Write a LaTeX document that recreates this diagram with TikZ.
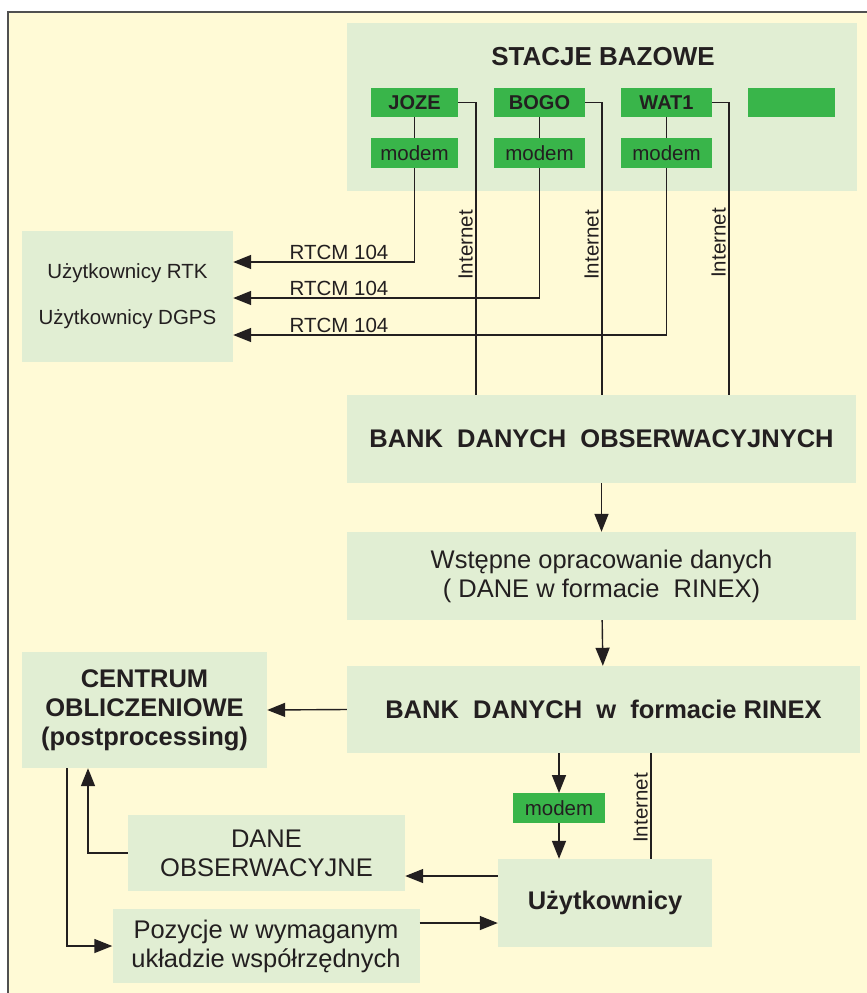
\documentclass[tikz,border=0pt]{standalone}
\usepackage{fontspec}
\setmainfont{Liberation Sans}
\usepackage{tikz}
\usepackage{xcolor}
\usetikzlibrary{positioning,arrows.meta,calc}
\definecolor{myyellow}{RGB}{255,250,214}
\definecolor{mylight}{RGB}{225,238,211}
\definecolor{mygreen}{RGB}{57,181,74}
\definecolor{myline}{RGB}{35,31,32}
\definecolor{myframe}{RGB}{80,80,80}
\tikzset{
    box/.style={
        rectangle,
        fill=mylight,
        inner sep=0pt,
        align=center,
        text=myline,
        font=\fontsize{25.5}{29}\selectfont
    },
    bbox/.style={
        box,
        font=\fontsize{25.5}{29}\selectfont\bfseries
    },
    st/.style={
        rectangle,
        fill=mygreen,
        minimum height=29.5pt,
        inner sep=0pt,
        text=myline,
        font=\fontsize{20.5}{23}\selectfont
    },
    lbl/.style={
        inner sep=1pt,
        text=myline,
        font=\fontsize{20.5}{23}\selectfont
    },
    ln/.style={line width=1.4pt,myline},
    arr/.style={-{Triangle[length=18pt,width=14pt]},line width=1.4pt,myline}
}
\begin{document}
\begin{tikzpicture}[x=1pt,y=-1pt]
\useasboundingbox (0,0) rectangle (867,993);
% tlo i ramka
\fill[myyellow] (8,12) rectangle (867,993);
\draw[myframe,line width=1.5pt] (8,993) -- (8,12) -- (867,12);
% stacje bazowe
\node[box,minimum width=510pt,minimum height=168pt] (sta) at (602,107) {};
\node[anchor=base,text=myline,font=\fontsize{26}{30}\selectfont\bfseries] (title) at (603,65) {STACJE BAZOWE};
\node[st,minimum width=87pt,font=\fontsize{20}{23}\selectfont\bfseries] (joze) at (414.5,102.5) {JOZE};
\node[st,minimum width=91pt,font=\fontsize{20}{23}\selectfont\bfseries] (bogo) at (539.5,102.5) {BOGO};
\node[st,minimum width=91pt,font=\fontsize{20}{23}\selectfont\bfseries] (wat) at (666.5,102.5) {WAT1};
\node[st,minimum width=87pt] (blank) at (791.5,102.5) {};
\node[st,minimum width=87pt] (jozem) at (414.5,153) {modem};
\node[st,minimum width=91pt] (bogom) at (539.5,153) {modem};
\node[st,minimum width=91pt] (watm) at (666.5,153) {modem};
% uzytkownicy RTK / DGPS
\node[box,minimum width=211pt,minimum height=131pt,font=\fontsize{20.5}{23}\selectfont] (users) at (127.5,296.5) {U\.zytkownicy RTK\\[23pt]U\.zytkownicy DGPS};
% banki danych
\node[bbox,minimum width=509pt,minimum height=88pt] (bdo) at (601.5,439) {BANK~~DANYCH~~OBSERWACYJNYCH};
\node[box,minimum width=509pt,minimum height=88pt] (wst) at (601.5,576) {Wstępne opracowanie danych\\( DANE w formacie~~RINEX)};
\node[bbox,minimum width=513pt,minimum height=87pt] (rinex) at (603.5,709.5) {BANK~~DANYCH~~w~~formacie RINEX};
\node[bbox,minimum width=245pt,minimum height=116pt] (cen) at (144.5,710) {CENTRUM\\OBLICZENIOWE\\(postprocessing)};
\node[box,minimum width=277pt,minimum height=76pt] (dane) at (266.5,853) {DANE\\OBSERWACYJNE};
\node[box,minimum width=307pt,minimum height=74pt] (poz) at (266,946) {Pozycje w wymaganym\\układzie współrzędnych};
\node[bbox,minimum width=214pt,minimum height=88pt] (usr) at (605,903) {Użytkownicy};
\node[st,minimum width=92pt] (mb) at (559,808) {modem};
% punkty pomocnicze
\coordinate (r1) at (0,262);
\coordinate (r2) at (0,298);
\coordinate (r3) at (0,335);
\coordinate (i1) at (476,0);
\coordinate (i2) at (602,0);
\coordinate (i3) at (729,0);
\coordinate (i4) at (651,0);
\coordinate (a1) at (0,876);
\coordinate (a2) at (0,923);
\coordinate (c1) at (88,0);
\coordinate (c2) at (67,0);
% polaczenia stacji
\draw[ln] (joze) -- (jozem);
\draw[ln] (bogo) -- (bogom);
\draw[ln] (wat) -- (watm);
\draw[arr] (jozem.south) |- (users.east |- r1);
\draw[arr] (bogom.south) |- (users.east |- r2);
\draw[arr] (watm.south) |- (users.east |- r3);
\node[lbl,anchor=south] (t1) at (339,261) {RTCM 104};
\node[lbl,anchor=south] (t2) at (339,297) {RTCM 104};
\node[lbl,anchor=south] (t3) at (339,334) {RTCM 104};
\draw[ln] (joze.east) -| (i1 |- bdo.north);
\draw[ln] (bogo.east) -| (i2 |- bdo.north);
\draw[ln] (wat.east) -| (i3 |- bdo.north);
\node[lbl,rotate=90,anchor=south] (n1) at (474,245) {Internet};
\node[lbl,rotate=90,anchor=south] (n2) at (600,245) {Internet};
\node[lbl,rotate=90,anchor=south] (n3) at (727,243) {Internet};
% przeplyw danych
\draw[arr] (bdo) -- (wst);
\draw[arr] (wst) -- (rinex);
\draw[arr] (rinex.west) -- (cen.east);
\draw[arr] (mb.north |- rinex.south) -- (mb);
\draw[arr] (mb) -- (mb.south |- usr.north);
\draw[ln] (i4 |- rinex.south) -- (i4 |- usr.north);
\node[lbl,rotate=90,anchor=south] (n4) at (649,808) {Internet};
\draw[arr] (usr.west |- a1) -- (dane.east |- a1);
\draw[arr] (poz.east |- a2) -- (usr.west |- a2);
\draw[arr] (dane.west) -| (c1 |- cen.south);
\draw[arr] (c2 |- cen.south) |- (poz.west);
\end{tikzpicture}
\end{document}
